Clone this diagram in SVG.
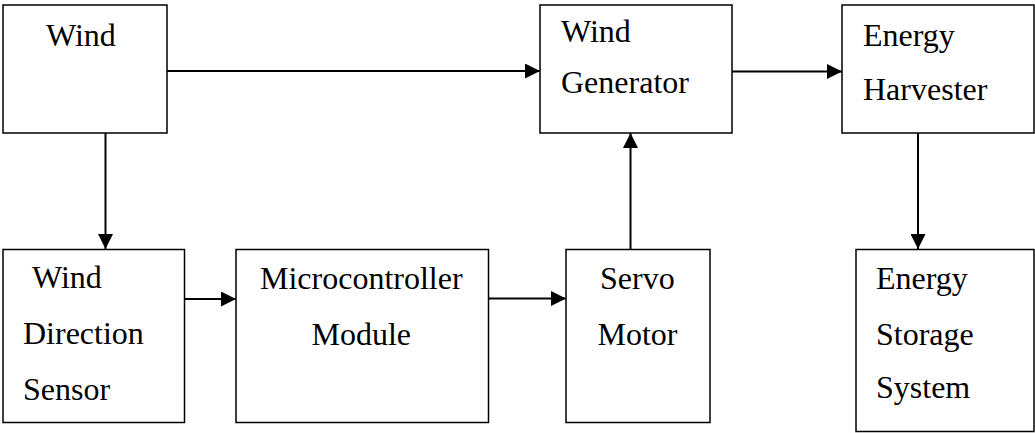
<svg xmlns="http://www.w3.org/2000/svg" width="1035" height="433" viewBox="0 0 1035 433" font-family="'Liberation Serif', 'Times New Roman', serif">
  <defs>
    <style>
      .box { fill: #ffffff; stroke: #000000; stroke-width: 1.5; }
      .lbl { font-family: 'Liberation Serif', 'Times New Roman', serif; font-size: 32px; fill: #000000; }
      .conn { stroke: #000000; stroke-width: 2; fill: none; marker-end: url(#arrow); }
    </style>
    <marker id="arrow" markerUnits="userSpaceOnUse" markerWidth="15" markerHeight="15" refX="15" refY="7.5" orient="auto">
      <path d="M0,0 L15,7.5 L0,15 Z" fill="#000000"/>
    </marker>
  </defs>
  <rect width="1035" height="433" fill="#ffffff"/>

  <g id="wind">
    <rect class="box" x="3" y="5" width="164" height="128"/>
    <text class="lbl" x="46" y="46">Wind</text>
  </g>
  <g id="wind-generator">
    <rect class="box" x="540" y="5" width="192" height="128"/>
    <text class="lbl" x="561" y="42">Wind</text>
    <text class="lbl" x="561" y="93">Generator</text>
  </g>
  <g id="energy-harvester">
    <rect class="box" x="842" y="5" width="192" height="128"/>
    <text class="lbl" x="863" y="46">Energy</text>
    <text class="lbl" x="863" y="100">Harvester</text>
  </g>
  <g id="wind-direction-sensor">
    <rect class="box" x="3" y="249.5" width="181.5" height="173"/>
    <text class="lbl" x="32" y="288">Wind</text>
    <text class="lbl" x="23" y="344">Direction</text>
    <text class="lbl" x="23" y="400">Sensor</text>
  </g>
  <g id="microcontroller-module">
    <rect class="box" x="236" y="249.5" width="252.5" height="173"/>
    <text class="lbl" x="260" y="289">Microcontroller</text>
    <text class="lbl" x="311.5" y="345">Module</text>
  </g>
  <g id="servo-motor">
    <rect class="box" x="566" y="249.5" width="144" height="173"/>
    <text class="lbl" x="600" y="289">Servo</text>
    <text class="lbl" x="597.5" y="345">Motor</text>
  </g>
  <g id="energy-storage-system">
    <rect class="box" x="856" y="249.5" width="178" height="182"/>
    <text class="lbl" x="876" y="289">Energy</text>
    <text class="lbl" x="876" y="345">Storage</text>
    <text class="lbl" x="876" y="398">System</text>
  </g>

  <g id="connectors">
    <line class="conn" x1="167" y1="71" x2="540" y2="71"/>
    <line class="conn" x1="105.5" y1="133" x2="105.5" y2="249"/>
    <line class="conn" x1="184.5" y1="299" x2="236" y2="299"/>
    <line class="conn" x1="488.5" y1="298.5" x2="566" y2="298.5"/>
    <line class="conn" x1="630.5" y1="249.5" x2="630.5" y2="133"/>
    <line class="conn" x1="732" y1="71.5" x2="842" y2="71.5"/>
    <line class="conn" x1="918" y1="133" x2="918" y2="249"/>
  </g>
</svg>
